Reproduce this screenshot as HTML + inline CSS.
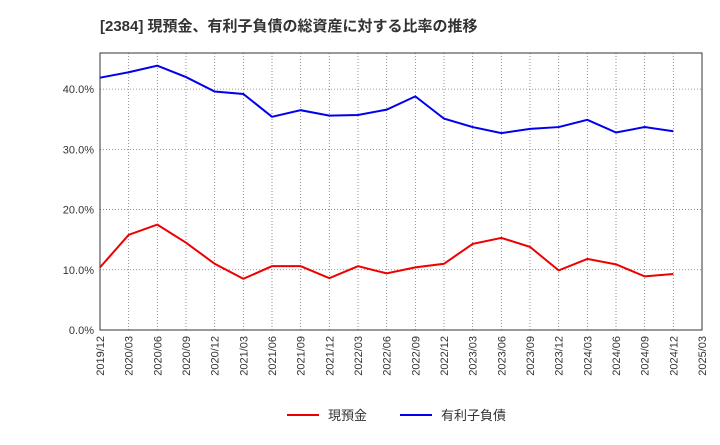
<!DOCTYPE html>
<html><head><meta charset="utf-8"><style>
body{margin:0;background:#fff;width:720px;height:440px;overflow:hidden;font-family:"Liberation Sans","Noto Sans CJK JP",sans-serif;}
</style></head><body>
<svg id="c" width="720" height="440" xmlns="http://www.w3.org/2000/svg" font-family="Liberation Sans, Noto Sans CJK JP, sans-serif">
<text x="100" y="31" font-size="15" font-weight="bold" fill="#333">[2384]  現預金、有利子負債の総資産に対する比率の推移</text>
<g id="grid"></g><g id="axes"></g><g id="series"></g>
<g>
<line x1="287" y1="415" x2="319" y2="415" stroke="#e00" stroke-width="2"/>
<text x="328" y="420" font-size="13" fill="#333">現預金</text>
<line x1="400" y1="415" x2="432" y2="415" stroke="#00e" stroke-width="2"/>
<text x="441" y="420" font-size="13" fill="#333">有利子負債</text>
</g>
</svg>
<script>
const categories=["2019/12","2020/03","2020/06","2020/09","2020/12","2021/03","2021/06","2021/09","2021/12","2022/03","2022/06","2022/09","2022/12","2023/03","2023/06","2023/09","2023/12","2024/03","2024/06","2024/09","2024/12","2025/03"];
const cashRatio=[10.4,15.8,17.5,14.5,11.0,8.5,10.6,10.6,8.6,10.6,9.4,10.4,11.0,14.3,15.3,13.8,9.9,11.8,10.9,8.9,9.3];
const debtRatio=[41.9,42.8,43.9,42.0,39.6,39.2,35.4,36.5,35.6,35.7,36.6,38.8,35.1,33.7,32.7,33.4,33.7,34.9,32.8,33.7,33.0];
const yTicks=[0,10,20,30,40];
const yTickLabels=["0.0%","10.0%","20.0%","30.0%","40.0%"];
const NS="http://www.w3.org/2000/svg";
const L=100,R=702,T=53,B=330,YMAX=46;
const x=i=>L+i*(R-L)/(categories.length-1);
const y=v=>B-v*(B-T)/YMAX;
function mk(tag,attrs,parent){const e=document.createElementNS(NS,tag);for(const k in attrs)e.setAttribute(k,attrs[k]);document.getElementById(parent).appendChild(e);return e;}
categories.forEach((c,i)=>{
 const g=mk("line",{x1:x(i),x2:x(i),y1:T,y2:B,stroke:"#777","stroke-width":0.8,"stroke-dasharray":"1,2"},"grid");
 
 
 const t=mk("text",{x:0,y:0,"font-size":11,fill:"#333","text-anchor":"end",transform:`translate(${x(i)+4},336) rotate(-90)`},"axes");
 t.textContent=c;
 
 
});
yTicks.forEach((v,i)=>{
 const g=mk("line",{x1:L,x2:R,y1:y(v),y2:y(v),stroke:"#777","stroke-width":0.8,"stroke-dasharray":"1,2"},"grid");
 
 
 const t=mk("text",{x:L-6,y:y(v)+4,"font-size":11,fill:"#333","text-anchor":"end"},"axes");
 t.textContent=yTickLabels[i];
 
 
});
const fr=mk("rect",{x:L,y:T,width:R-L,height:B-T,fill:"none",stroke:"#333","stroke-width":1},"axes");


function line(d,col,name){
 const p=mk("polyline",{points:d.map((v,i)=>x(i)+","+y(v)).join(" "),fill:"none",stroke:col,"stroke-width":2},"series");
 
 
}
line(cashRatio,"#e00","cash-ratio-line");
line(debtRatio,"#00e","debt-ratio-line");
</script>
</body></html>
